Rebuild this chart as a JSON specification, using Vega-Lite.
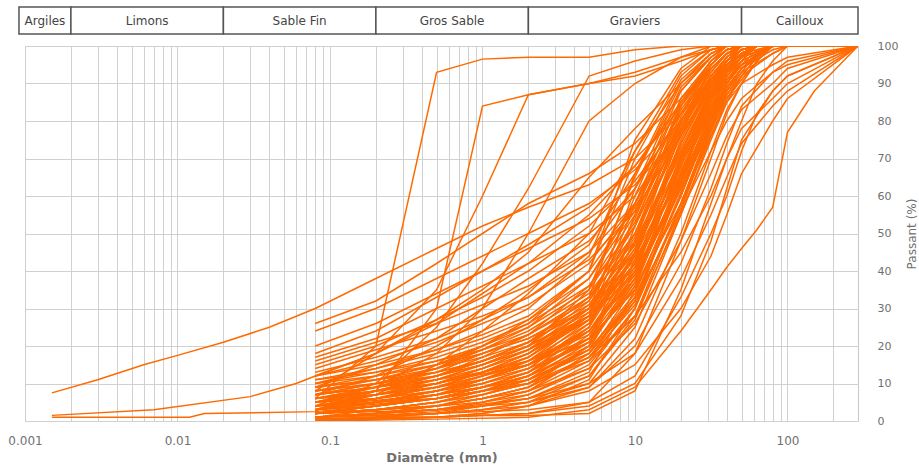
{
"$schema":"https://vega.github.io/schema/vega-lite/v6.json",
"width":833,"height":375,
"autosize":{"type":"none"},
"padding":{"left":25,"top":46,"right":61,"bottom":53},
"background":"white",
"config":{"view":{"stroke":"#c8c8c8"},"font":"DejaVu Sans"},
"datasets":{
"classes":[
{"classe":"Argiles","dmin":0.000913,"dmax":0.002},
{"classe":"Limons","dmin":0.002,"dmax":0.02},
{"classe":"Sable Fin","dmin":0.02,"dmax":0.2},
{"classe":"Gros Sable","dmin":0.2,"dmax":2},
{"classe":"Graviers","dmin":2,"dmax":50},
{"classe":"Cailloux","dmin":50,"dmax":290}
],
"courbes":[
{"c":1,"d":0.08,"p":3},{"c":1,"d":0.2,"p":5},{"c":1,"d":0.5,"p":8},{"c":1,"d":1,"p":11},{"c":1,"d":2,"p":15},{"c":1,"d":5,"p":24},{"c":1,"d":10,"p":40},{"c":1,"d":20,"p":68},{"c":1,"d":31.5,"p":85},{"c":1,"d":40,"p":93},{"c":1,"d":50,"p":97},{"c":1,"d":80,"p":100},{"c":1,"d":290,"p":100},
{"c":2,"d":0.08,"p":1},{"c":2,"d":0.2,"p":2},{"c":2,"d":0.5,"p":4},{"c":2,"d":1,"p":6},{"c":2,"d":2,"p":9},{"c":2,"d":5,"p":17},{"c":2,"d":10,"p":33},{"c":2,"d":20,"p":60},{"c":2,"d":31.5,"p":80},{"c":2,"d":40,"p":90},{"c":2,"d":50,"p":96},{"c":2,"d":63,"p":100},{"c":2,"d":290,"p":100},
{"c":3,"d":0.08,"p":5},{"c":3,"d":0.2,"p":8},{"c":3,"d":0.5,"p":12},{"c":3,"d":1,"p":16},{"c":3,"d":2,"p":21},{"c":3,"d":5,"p":30},{"c":3,"d":10,"p":45},{"c":3,"d":20,"p":70},{"c":3,"d":31.5,"p":86},{"c":3,"d":40,"p":94},{"c":3,"d":50,"p":98},{"c":3,"d":80,"p":100},{"c":3,"d":290,"p":100},
{"c":4,"d":0.08,"p":2},{"c":4,"d":0.2,"p":4},{"c":4,"d":0.5,"p":7},{"c":4,"d":1,"p":10},{"c":4,"d":2,"p":14},{"c":4,"d":5,"p":25},{"c":4,"d":10,"p":44},{"c":4,"d":20,"p":75},{"c":4,"d":31.5,"p":90},{"c":4,"d":40,"p":96},{"c":4,"d":50,"p":99},{"c":4,"d":63,"p":100},{"c":4,"d":290,"p":100},
{"c":5,"d":0.08,"p":8},{"c":5,"d":0.2,"p":11},{"c":5,"d":0.5,"p":15},{"c":5,"d":1,"p":19},{"c":5,"d":2,"p":24},{"c":5,"d":5,"p":34},{"c":5,"d":10,"p":50},{"c":5,"d":20,"p":76},{"c":5,"d":31.5,"p":90},{"c":5,"d":40,"p":96},{"c":5,"d":50,"p":100},{"c":5,"d":290,"p":100},
{"c":6,"d":0.08,"p":0.5},{"c":6,"d":0.2,"p":1},{"c":6,"d":0.5,"p":2},{"c":6,"d":1,"p":3},{"c":6,"d":2,"p":5},{"c":6,"d":5,"p":12},{"c":6,"d":10,"p":28},{"c":6,"d":20,"p":58},{"c":6,"d":31.5,"p":78},{"c":6,"d":40,"p":88},{"c":6,"d":50,"p":94},{"c":6,"d":80,"p":99},{"c":6,"d":100,"p":100},{"c":6,"d":290,"p":100},
{"c":7,"d":0.08,"p":4},{"c":7,"d":0.2,"p":6},{"c":7,"d":0.5,"p":9},{"c":7,"d":1,"p":13},{"c":7,"d":2,"p":18},{"c":7,"d":5,"p":28},{"c":7,"d":10,"p":42},{"c":7,"d":20,"p":65},{"c":7,"d":31.5,"p":80},{"c":7,"d":40,"p":88},{"c":7,"d":50,"p":93},{"c":7,"d":80,"p":98},{"c":7,"d":100,"p":100},{"c":7,"d":290,"p":100},
{"c":8,"d":0.08,"p":6},{"c":8,"d":0.2,"p":9},{"c":8,"d":0.5,"p":13},{"c":8,"d":1,"p":18},{"c":8,"d":2,"p":23},{"c":8,"d":5,"p":33},{"c":8,"d":10,"p":48},{"c":8,"d":20,"p":72},{"c":8,"d":31.5,"p":87},{"c":8,"d":40,"p":93},{"c":8,"d":50,"p":97},{"c":8,"d":63,"p":100},{"c":8,"d":290,"p":100},
{"c":9,"d":0.08,"p":2},{"c":9,"d":0.2,"p":3},{"c":9,"d":0.5,"p":5},{"c":9,"d":1,"p":8},{"c":9,"d":2,"p":12},{"c":9,"d":5,"p":22},{"c":9,"d":10,"p":38},{"c":9,"d":20,"p":62},{"c":9,"d":31.5,"p":79},{"c":9,"d":40,"p":87},{"c":9,"d":50,"p":92},{"c":9,"d":63,"p":97},{"c":9,"d":80,"p":100},{"c":9,"d":290,"p":100},
{"c":10,"d":0.08,"p":10},{"c":10,"d":0.2,"p":13},{"c":10,"d":0.5,"p":17},{"c":10,"d":1,"p":21},{"c":10,"d":2,"p":26},{"c":10,"d":5,"p":36},{"c":10,"d":10,"p":52},{"c":10,"d":20,"p":78},{"c":10,"d":31.5,"p":92},{"c":10,"d":40,"p":97},{"c":10,"d":50,"p":100},{"c":10,"d":290,"p":100},
{"c":11,"d":0.08,"p":3},{"c":11,"d":0.2,"p":5},{"c":11,"d":0.5,"p":8},{"c":11,"d":1,"p":12},{"c":11,"d":2,"p":17},{"c":11,"d":5,"p":29},{"c":11,"d":10,"p":50},{"c":11,"d":20,"p":80},{"c":11,"d":31.5,"p":94},{"c":11,"d":40,"p":98},{"c":11,"d":50,"p":100},{"c":11,"d":290,"p":100},
{"c":12,"d":0.08,"p":1},{"c":12,"d":0.2,"p":2},{"c":12,"d":0.5,"p":3},{"c":12,"d":1,"p":5},{"c":12,"d":2,"p":8},{"c":12,"d":5,"p":18},{"c":12,"d":10,"p":36},{"c":12,"d":20,"p":65},{"c":12,"d":31.5,"p":84},{"c":12,"d":40,"p":92},{"c":12,"d":50,"p":97},{"c":12,"d":63,"p":100},{"c":12,"d":290,"p":100},
{"c":13,"d":0.08,"p":7},{"c":13,"d":0.2,"p":10},{"c":13,"d":0.5,"p":14},{"c":13,"d":1,"p":18},{"c":13,"d":2,"p":22},{"c":13,"d":5,"p":30},{"c":13,"d":10,"p":43},{"c":13,"d":20,"p":66},{"c":13,"d":31.5,"p":83},{"c":13,"d":40,"p":91},{"c":13,"d":50,"p":95},{"c":13,"d":80,"p":100},{"c":13,"d":290,"p":100},
{"c":14,"d":0.08,"p":4},{"c":14,"d":0.2,"p":7},{"c":14,"d":0.5,"p":11},{"c":14,"d":1,"p":15},{"c":14,"d":2,"p":20},{"c":14,"d":5,"p":32},{"c":14,"d":10,"p":54},{"c":14,"d":20,"p":82},{"c":14,"d":31.5,"p":95},{"c":14,"d":40,"p":99},{"c":14,"d":50,"p":100},{"c":14,"d":290,"p":100},
{"c":15,"d":0.08,"p":0},{"c":15,"d":0.2,"p":1},{"c":15,"d":0.5,"p":2},{"c":15,"d":1,"p":3},{"c":15,"d":2,"p":5},{"c":15,"d":5,"p":10},{"c":15,"d":10,"p":25},{"c":15,"d":20,"p":55},{"c":15,"d":31.5,"p":76},{"c":15,"d":40,"p":86},{"c":15,"d":50,"p":92},{"c":15,"d":63,"p":97},{"c":15,"d":80,"p":100},{"c":15,"d":290,"p":100},
{"c":16,"d":0.08,"p":9},{"c":16,"d":0.2,"p":12},{"c":16,"d":0.5,"p":16},{"c":16,"d":1,"p":20},{"c":16,"d":2,"p":25},{"c":16,"d":5,"p":35},{"c":16,"d":10,"p":53},{"c":16,"d":20,"p":80},{"c":16,"d":31.5,"p":93},{"c":16,"d":40,"p":98},{"c":16,"d":50,"p":100},{"c":16,"d":290,"p":100},
{"c":17,"d":0.08,"p":5},{"c":17,"d":0.2,"p":8},{"c":17,"d":0.5,"p":12},{"c":17,"d":1,"p":17},{"c":17,"d":2,"p":23},{"c":17,"d":5,"p":36},{"c":17,"d":10,"p":55},{"c":17,"d":20,"p":79},{"c":17,"d":31.5,"p":91},{"c":17,"d":40,"p":96},{"c":17,"d":50,"p":99},{"c":17,"d":63,"p":100},{"c":17,"d":290,"p":100},
{"c":18,"d":0.08,"p":2},{"c":18,"d":0.2,"p":4},{"c":18,"d":0.5,"p":6},{"c":18,"d":1,"p":9},{"c":18,"d":2,"p":13},{"c":18,"d":5,"p":24},{"c":18,"d":10,"p":42},{"c":18,"d":20,"p":70},{"c":18,"d":31.5,"p":87},{"c":18,"d":40,"p":94},{"c":18,"d":50,"p":98},{"c":18,"d":63,"p":100},{"c":18,"d":290,"p":100},
{"c":19,"d":0.08,"p":6},{"c":19,"d":0.2,"p":8},{"c":19,"d":0.5,"p":11},{"c":19,"d":1,"p":14},{"c":19,"d":2,"p":18},{"c":19,"d":5,"p":27},{"c":19,"d":10,"p":40},{"c":19,"d":20,"p":62},{"c":19,"d":31.5,"p":78},{"c":19,"d":40,"p":86},{"c":19,"d":50,"p":91},{"c":19,"d":63,"p":96},{"c":19,"d":80,"p":100},{"c":19,"d":290,"p":100},
{"c":20,"d":0.08,"p":3},{"c":20,"d":0.2,"p":6},{"c":20,"d":0.5,"p":10},{"c":20,"d":1,"p":14},{"c":20,"d":2,"p":19},{"c":20,"d":5,"p":31},{"c":20,"d":10,"p":47},{"c":20,"d":20,"p":71},{"c":20,"d":31.5,"p":85},{"c":20,"d":40,"p":92},{"c":20,"d":50,"p":96},{"c":20,"d":80,"p":100},{"c":20,"d":290,"p":100},
{"c":21,"d":0.08,"p":11},{"c":21,"d":0.2,"p":14},{"c":21,"d":0.5,"p":18},{"c":21,"d":1,"p":22},{"c":21,"d":2,"p":27},{"c":21,"d":5,"p":38},{"c":21,"d":10,"p":56},{"c":21,"d":20,"p":84},{"c":21,"d":31.5,"p":96},{"c":21,"d":40,"p":100},{"c":21,"d":290,"p":100},
{"c":22,"d":0.08,"p":1},{"c":22,"d":0.2,"p":3},{"c":22,"d":0.5,"p":5},{"c":22,"d":1,"p":8},{"c":22,"d":2,"p":12},{"c":22,"d":5,"p":23},{"c":22,"d":10,"p":41},{"c":22,"d":20,"p":67},{"c":22,"d":31.5,"p":83},{"c":22,"d":40,"p":91},{"c":22,"d":50,"p":95},{"c":22,"d":80,"p":100},{"c":22,"d":290,"p":100},
{"c":23,"d":0.08,"p":4},{"c":23,"d":0.2,"p":6},{"c":23,"d":0.5,"p":9},{"c":23,"d":1,"p":12},{"c":23,"d":2,"p":16},{"c":23,"d":5,"p":26},{"c":23,"d":10,"p":45},{"c":23,"d":20,"p":74},{"c":23,"d":31.5,"p":89},{"c":23,"d":40,"p":95},{"c":23,"d":50,"p":98},{"c":23,"d":63,"p":100},{"c":23,"d":290,"p":100},
{"c":24,"d":0.08,"p":7},{"c":24,"d":0.2,"p":10},{"c":24,"d":0.5,"p":14},{"c":24,"d":1,"p":19},{"c":24,"d":2,"p":25},{"c":24,"d":5,"p":38},{"c":24,"d":10,"p":58},{"c":24,"d":20,"p":83},{"c":24,"d":31.5,"p":94},{"c":24,"d":40,"p":98},{"c":24,"d":50,"p":100},{"c":24,"d":290,"p":100},
{"c":25,"d":0.08,"p":2},{"c":25,"d":0.2,"p":3},{"c":25,"d":0.5,"p":5},{"c":25,"d":1,"p":7},{"c":25,"d":2,"p":10},{"c":25,"d":5,"p":20},{"c":25,"d":10,"p":38},{"c":25,"d":20,"p":68},{"c":25,"d":31.5,"p":86},{"c":25,"d":40,"p":93},{"c":25,"d":50,"p":97},{"c":25,"d":63,"p":100},{"c":25,"d":290,"p":100},
{"c":26,"d":0.08,"p":12},{"c":26,"d":0.2,"p":16},{"c":26,"d":0.5,"p":21},{"c":26,"d":1,"p":26},{"c":26,"d":2,"p":31},{"c":26,"d":5,"p":42},{"c":26,"d":10,"p":58},{"c":26,"d":20,"p":80},{"c":26,"d":31.5,"p":92},{"c":26,"d":40,"p":97},{"c":26,"d":50,"p":100},{"c":26,"d":290,"p":100},
{"c":27,"d":0.08,"p":0},{"c":27,"d":0.2,"p":1},{"c":27,"d":0.5,"p":1},{"c":27,"d":1,"p":2},{"c":27,"d":2,"p":4},{"c":27,"d":5,"p":9},{"c":27,"d":10,"p":22},{"c":27,"d":20,"p":50},{"c":27,"d":31.5,"p":72},{"c":27,"d":40,"p":83},{"c":27,"d":50,"p":90},{"c":27,"d":63,"p":96},{"c":27,"d":80,"p":100},{"c":27,"d":290,"p":100},
{"c":28,"d":0.08,"p":5},{"c":28,"d":0.2,"p":7},{"c":28,"d":0.5,"p":10},{"c":28,"d":1,"p":13},{"c":28,"d":2,"p":17},{"c":28,"d":5,"p":27},{"c":28,"d":10,"p":44},{"c":28,"d":20,"p":73},{"c":28,"d":31.5,"p":88},{"c":28,"d":40,"p":94},{"c":28,"d":50,"p":98},{"c":28,"d":63,"p":100},{"c":28,"d":290,"p":100},
{"c":29,"d":0.08,"p":3},{"c":29,"d":0.2,"p":5},{"c":29,"d":0.5,"p":7},{"c":29,"d":1,"p":10},{"c":29,"d":2,"p":14},{"c":29,"d":5,"p":26},{"c":29,"d":10,"p":48},{"c":29,"d":20,"p":78},{"c":29,"d":31.5,"p":92},{"c":29,"d":40,"p":97},{"c":29,"d":50,"p":100},{"c":29,"d":290,"p":100},
{"c":30,"d":0.08,"p":8},{"c":30,"d":0.2,"p":10},{"c":30,"d":0.5,"p":13},{"c":30,"d":1,"p":16},{"c":30,"d":2,"p":20},{"c":30,"d":5,"p":29},{"c":30,"d":10,"p":44},{"c":30,"d":20,"p":68},{"c":30,"d":31.5,"p":84},{"c":30,"d":40,"p":91},{"c":30,"d":50,"p":95},{"c":30,"d":80,"p":100},{"c":30,"d":290,"p":100},
{"c":31,"d":0.08,"p":1},{"c":31,"d":0.2,"p":2},{"c":31,"d":0.5,"p":4},{"c":31,"d":1,"p":7},{"c":31,"d":2,"p":11},{"c":31,"d":5,"p":21},{"c":31,"d":10,"p":37},{"c":31,"d":20,"p":63},{"c":31,"d":31.5,"p":81},{"c":31,"d":40,"p":89},{"c":31,"d":50,"p":94},{"c":31,"d":63,"p":98},{"c":31,"d":80,"p":100},{"c":31,"d":290,"p":100},
{"c":32,"d":0.08,"p":6},{"c":32,"d":0.2,"p":9},{"c":32,"d":0.5,"p":14},{"c":32,"d":1,"p":20},{"c":32,"d":2,"p":27},{"c":32,"d":5,"p":40},{"c":32,"d":10,"p":57},{"c":32,"d":20,"p":79},{"c":32,"d":31.5,"p":91},{"c":32,"d":40,"p":96},{"c":32,"d":50,"p":99},{"c":32,"d":63,"p":100},{"c":32,"d":290,"p":100},
{"c":33,"d":0.08,"p":2},{"c":33,"d":0.2,"p":4},{"c":33,"d":0.5,"p":7},{"c":33,"d":1,"p":11},{"c":33,"d":2,"p":16},{"c":33,"d":5,"p":28},{"c":33,"d":10,"p":46},{"c":33,"d":20,"p":72},{"c":33,"d":31.5,"p":87},{"c":33,"d":40,"p":94},{"c":33,"d":50,"p":97},{"c":33,"d":63,"p":100},{"c":33,"d":290,"p":100},
{"c":34,"d":0.08,"p":4},{"c":34,"d":0.2,"p":5},{"c":34,"d":0.5,"p":7},{"c":34,"d":1,"p":9},{"c":34,"d":2,"p":12},{"c":34,"d":5,"p":19},{"c":34,"d":10,"p":33},{"c":34,"d":20,"p":60},{"c":34,"d":31.5,"p":80},{"c":34,"d":40,"p":89},{"c":34,"d":50,"p":94},{"c":34,"d":80,"p":100},{"c":34,"d":290,"p":100},
{"c":35,"d":0.08,"p":9},{"c":35,"d":0.2,"p":11},{"c":35,"d":0.5,"p":14},{"c":35,"d":1,"p":17},{"c":35,"d":2,"p":21},{"c":35,"d":5,"p":30},{"c":35,"d":10,"p":46},{"c":35,"d":20,"p":72},{"c":35,"d":31.5,"p":88},{"c":35,"d":40,"p":95},{"c":35,"d":50,"p":99},{"c":35,"d":63,"p":100},{"c":35,"d":290,"p":100},
{"c":36,"d":0.08,"p":0.5},{"c":36,"d":0.2,"p":1},{"c":36,"d":0.5,"p":2},{"c":36,"d":1,"p":4},{"c":36,"d":2,"p":7},{"c":36,"d":5,"p":15},{"c":36,"d":10,"p":30},{"c":36,"d":20,"p":58},{"c":36,"d":31.5,"p":79},{"c":36,"d":40,"p":89},{"c":36,"d":50,"p":94},{"c":36,"d":80,"p":100},{"c":36,"d":290,"p":100},
{"c":37,"d":0.08,"p":3},{"c":37,"d":0.2,"p":5},{"c":37,"d":0.5,"p":8},{"c":37,"d":1,"p":11},{"c":37,"d":2,"p":15},{"c":37,"d":5,"p":24},{"c":37,"d":10,"p":39},{"c":37,"d":20,"p":64},{"c":37,"d":31.5,"p":82},{"c":37,"d":40,"p":90},{"c":37,"d":50,"p":95},{"c":37,"d":63,"p":99},{"c":37,"d":80,"p":100},{"c":37,"d":290,"p":100},
{"c":38,"d":0.08,"p":13},{"c":38,"d":0.2,"p":17},{"c":38,"d":0.5,"p":22},{"c":38,"d":1,"p":27},{"c":38,"d":2,"p":33},{"c":38,"d":5,"p":45},{"c":38,"d":10,"p":62},{"c":38,"d":20,"p":85},{"c":38,"d":31.5,"p":95},{"c":38,"d":40,"p":99},{"c":38,"d":50,"p":100},{"c":38,"d":290,"p":100},
{"c":39,"d":0.08,"p":7},{"c":39,"d":0.2,"p":9},{"c":39,"d":0.5,"p":12},{"c":39,"d":1,"p":15},{"c":39,"d":2,"p":19},{"c":39,"d":5,"p":28},{"c":39,"d":10,"p":42},{"c":39,"d":20,"p":69},{"c":39,"d":31.5,"p":86},{"c":39,"d":40,"p":93},{"c":39,"d":50,"p":97},{"c":39,"d":63,"p":100},{"c":39,"d":290,"p":100},
{"c":40,"d":0.08,"p":1},{"c":40,"d":0.2,"p":2},{"c":40,"d":0.5,"p":3},{"c":40,"d":1,"p":5},{"c":40,"d":2,"p":8},{"c":40,"d":5,"p":16},{"c":40,"d":10,"p":32},{"c":40,"d":20,"p":61},{"c":40,"d":31.5,"p":81},{"c":40,"d":40,"p":90},{"c":40,"d":50,"p":95},{"c":40,"d":80,"p":100},{"c":40,"d":290,"p":100},
{"c":41,"d":0.08,"p":5},{"c":41,"d":0.2,"p":8},{"c":41,"d":0.5,"p":12},{"c":41,"d":1,"p":16},{"c":41,"d":2,"p":21},{"c":41,"d":5,"p":33},{"c":41,"d":10,"p":52},{"c":41,"d":20,"p":78},{"c":41,"d":31.5,"p":91},{"c":41,"d":40,"p":96},{"c":41,"d":50,"p":99},{"c":41,"d":63,"p":100},{"c":41,"d":290,"p":100},
{"c":42,"d":0.08,"p":2},{"c":42,"d":0.2,"p":3},{"c":42,"d":0.5,"p":4},{"c":42,"d":1,"p":6},{"c":42,"d":2,"p":9},{"c":42,"d":5,"p":17},{"c":42,"d":10,"p":31},{"c":42,"d":20,"p":57},{"c":42,"d":31.5,"p":77},{"c":42,"d":40,"p":87},{"c":42,"d":50,"p":93},{"c":42,"d":63,"p":98},{"c":42,"d":80,"p":100},{"c":42,"d":290,"p":100},
{"c":43,"d":0.08,"p":10},{"c":43,"d":0.2,"p":12},{"c":43,"d":0.5,"p":15},{"c":43,"d":1,"p":18},{"c":43,"d":2,"p":22},{"c":43,"d":5,"p":31},{"c":43,"d":10,"p":47},{"c":43,"d":20,"p":74},{"c":43,"d":31.5,"p":89},{"c":43,"d":40,"p":95},{"c":43,"d":50,"p":98},{"c":43,"d":63,"p":100},{"c":43,"d":290,"p":100},
{"c":44,"d":0.08,"p":4},{"c":44,"d":0.2,"p":7},{"c":44,"d":0.5,"p":10},{"c":44,"d":1,"p":14},{"c":44,"d":2,"p":19},{"c":44,"d":5,"p":30},{"c":44,"d":10,"p":49},{"c":44,"d":20,"p":76},{"c":44,"d":31.5,"p":90},{"c":44,"d":40,"p":96},{"c":44,"d":50,"p":99},{"c":44,"d":63,"p":100},{"c":44,"d":290,"p":100},
{"c":45,"d":0.08,"p":6},{"c":45,"d":0.2,"p":8},{"c":45,"d":0.5,"p":10},{"c":45,"d":1,"p":13},{"c":45,"d":2,"p":16},{"c":45,"d":5,"p":24},{"c":45,"d":10,"p":38},{"c":45,"d":20,"p":64},{"c":45,"d":31.5,"p":82},{"c":45,"d":40,"p":90},{"c":45,"d":50,"p":95},{"c":45,"d":80,"p":100},{"c":45,"d":290,"p":100},
{"c":46,"d":0.08,"p":17},{"c":46,"d":0.2,"p":22},{"c":46,"d":0.5,"p":30},{"c":46,"d":1,"p":36},{"c":46,"d":2,"p":42},{"c":46,"d":5,"p":50},{"c":46,"d":10,"p":60},{"c":46,"d":20,"p":78},{"c":46,"d":31.5,"p":90},{"c":46,"d":40,"p":96},{"c":46,"d":50,"p":100},{"c":46,"d":290,"p":100},
{"c":47,"d":0.08,"p":18},{"c":47,"d":0.2,"p":24},{"c":47,"d":0.5,"p":33},{"c":47,"d":1,"p":40},{"c":47,"d":2,"p":47},{"c":47,"d":5,"p":57},{"c":47,"d":10,"p":68},{"c":47,"d":20,"p":84},{"c":47,"d":31.5,"p":94},{"c":47,"d":40,"p":98},{"c":47,"d":50,"p":100},{"c":47,"d":290,"p":100},
{"c":48,"d":0.08,"p":24},{"c":48,"d":0.2,"p":30},{"c":48,"d":0.5,"p":38},{"c":48,"d":1,"p":44},{"c":48,"d":2,"p":50},{"c":48,"d":5,"p":58},{"c":48,"d":10,"p":67},{"c":48,"d":20,"p":80},{"c":48,"d":31.5,"p":90},{"c":48,"d":40,"p":95},{"c":48,"d":63,"p":100},{"c":48,"d":290,"p":100},
{"c":49,"d":0.08,"p":26},{"c":49,"d":0.2,"p":32},{"c":49,"d":0.5,"p":42},{"c":49,"d":1,"p":50},{"c":49,"d":2,"p":58},{"c":49,"d":5,"p":66},{"c":49,"d":10,"p":74},{"c":49,"d":20,"p":86},{"c":49,"d":31.5,"p":94},{"c":49,"d":40,"p":98},{"c":49,"d":50,"p":100},{"c":49,"d":290,"p":100},
{"c":50,"d":0.0015,"p":7.5},{"c":50,"d":0.003,"p":11},{"c":50,"d":0.006,"p":15},{"c":50,"d":0.01,"p":17.5},{"c":50,"d":0.02,"p":21},{"c":50,"d":0.04,"p":25},{"c":50,"d":0.08,"p":30},{"c":50,"d":0.2,"p":38},{"c":50,"d":0.5,"p":46},{"c":50,"d":1,"p":52},{"c":50,"d":2,"p":57},{"c":50,"d":5,"p":63},{"c":50,"d":10,"p":70},{"c":50,"d":20,"p":82},{"c":50,"d":31.5,"p":90},{"c":50,"d":50,"p":97},{"c":50,"d":80,"p":100},{"c":50,"d":290,"p":100},
{"c":51,"d":0.0015,"p":1.5},{"c":51,"d":0.007,"p":3},{"c":51,"d":0.03,"p":6.5},{"c":51,"d":0.06,"p":10},{"c":51,"d":0.08,"p":12},{"c":51,"d":0.2,"p":18},{"c":51,"d":0.5,"p":26},{"c":51,"d":1,"p":34},{"c":51,"d":2,"p":42},{"c":51,"d":5,"p":55},{"c":51,"d":10,"p":68},{"c":51,"d":20,"p":85},{"c":51,"d":31.5,"p":94},{"c":51,"d":40,"p":98},{"c":51,"d":50,"p":100},{"c":51,"d":290,"p":100},
{"c":52,"d":0.0015,"p":1},{"c":52,"d":0.012,"p":1},{"c":52,"d":0.015,"p":2},{"c":52,"d":0.08,"p":2.5},{"c":52,"d":0.2,"p":4},{"c":52,"d":0.5,"p":6},{"c":52,"d":1,"p":8},{"c":52,"d":2,"p":10},{"c":52,"d":5,"p":16},{"c":52,"d":10,"p":28},{"c":52,"d":20,"p":55},{"c":52,"d":31.5,"p":75},{"c":52,"d":40,"p":85},{"c":52,"d":50,"p":92},{"c":52,"d":80,"p":98},{"c":52,"d":100,"p":100},{"c":52,"d":290,"p":100},
{"c":53,"d":0.08,"p":6},{"c":53,"d":0.2,"p":20},{"c":53,"d":0.5,"p":93},{"c":53,"d":1,"p":96.5},{"c":53,"d":2,"p":97},{"c":53,"d":5,"p":97},{"c":53,"d":10,"p":99},{"c":53,"d":20,"p":100},{"c":53,"d":290,"p":100},
{"c":54,"d":0.08,"p":3},{"c":54,"d":0.2,"p":8},{"c":54,"d":0.5,"p":30},{"c":54,"d":1,"p":84},{"c":54,"d":2,"p":87},{"c":54,"d":5,"p":90},{"c":54,"d":10,"p":92},{"c":54,"d":20,"p":96},{"c":54,"d":31.5,"p":99},{"c":54,"d":40,"p":100},{"c":54,"d":290,"p":100},
{"c":55,"d":0.08,"p":8},{"c":55,"d":0.2,"p":18},{"c":55,"d":0.5,"p":35},{"c":55,"d":1,"p":60},{"c":55,"d":2,"p":87},{"c":55,"d":5,"p":90},{"c":55,"d":10,"p":93},{"c":55,"d":20,"p":97},{"c":55,"d":40,"p":100},{"c":55,"d":290,"p":100},
{"c":56,"d":0.08,"p":4},{"c":56,"d":0.2,"p":10},{"c":56,"d":0.5,"p":25},{"c":56,"d":1,"p":42},{"c":56,"d":2,"p":62},{"c":56,"d":5,"p":92},{"c":56,"d":10,"p":96},{"c":56,"d":20,"p":99},{"c":56,"d":31.5,"p":100},{"c":56,"d":290,"p":100},
{"c":57,"d":0.08,"p":5},{"c":57,"d":0.2,"p":9},{"c":57,"d":0.5,"p":18},{"c":57,"d":1,"p":30},{"c":57,"d":2,"p":50},{"c":57,"d":5,"p":80},{"c":57,"d":10,"p":90},{"c":57,"d":20,"p":97},{"c":57,"d":31.5,"p":100},{"c":57,"d":290,"p":100},
{"c":58,"d":0.08,"p":12},{"c":58,"d":0.2,"p":18},{"c":58,"d":0.5,"p":27},{"c":58,"d":1,"p":35},{"c":58,"d":2,"p":45},{"c":58,"d":5,"p":65},{"c":58,"d":10,"p":78},{"c":58,"d":20,"p":90},{"c":58,"d":31.5,"p":97},{"c":58,"d":40,"p":100},{"c":58,"d":290,"p":100},
{"c":59,"d":0.08,"p":15},{"c":59,"d":0.2,"p":20},{"c":59,"d":0.5,"p":27},{"c":59,"d":1,"p":33},{"c":59,"d":2,"p":40},{"c":59,"d":5,"p":52},{"c":59,"d":10,"p":64},{"c":59,"d":20,"p":80},{"c":59,"d":31.5,"p":91},{"c":59,"d":40,"p":96},{"c":59,"d":50,"p":99},{"c":59,"d":63,"p":100},{"c":59,"d":290,"p":100},
{"c":60,"d":0.08,"p":20},{"c":60,"d":0.2,"p":26},{"c":60,"d":0.5,"p":34},{"c":60,"d":1,"p":40},{"c":60,"d":2,"p":46},{"c":60,"d":5,"p":54},{"c":60,"d":10,"p":63},{"c":60,"d":20,"p":77},{"c":60,"d":31.5,"p":88},{"c":60,"d":40,"p":94},{"c":60,"d":50,"p":98},{"c":60,"d":63,"p":100},{"c":60,"d":290,"p":100},
{"c":61,"d":0.08,"p":14},{"c":61,"d":0.2,"p":19},{"c":61,"d":0.5,"p":24},{"c":61,"d":1,"p":28},{"c":61,"d":2,"p":33},{"c":61,"d":5,"p":43},{"c":61,"d":10,"p":56},{"c":61,"d":20,"p":76},{"c":61,"d":31.5,"p":89},{"c":61,"d":40,"p":95},{"c":61,"d":50,"p":99},{"c":61,"d":63,"p":100},{"c":61,"d":290,"p":100},
{"c":62,"d":0.08,"p":0},{"c":62,"d":0.5,"p":0.5},{"c":62,"d":2,"p":1},{"c":62,"d":5,"p":3},{"c":62,"d":10,"p":9},{"c":62,"d":20,"p":24},{"c":62,"d":31.5,"p":35},{"c":62,"d":40,"p":41},{"c":62,"d":50,"p":46},{"c":62,"d":63,"p":51},{"c":62,"d":80,"p":57},{"c":62,"d":100,"p":77},{"c":62,"d":150,"p":88},{"c":62,"d":290,"p":100},
{"c":63,"d":0.08,"p":0.5},{"c":63,"d":0.5,"p":1},{"c":63,"d":2,"p":2},{"c":63,"d":5,"p":5},{"c":63,"d":10,"p":12},{"c":63,"d":20,"p":33},{"c":63,"d":31.5,"p":50},{"c":63,"d":40,"p":60},{"c":63,"d":50,"p":72},{"c":63,"d":63,"p":82},{"c":63,"d":80,"p":88},{"c":63,"d":100,"p":92},{"c":63,"d":290,"p":100},
{"c":64,"d":0.08,"p":1},{"c":64,"d":0.5,"p":3},{"c":64,"d":2,"p":6},{"c":64,"d":5,"p":10},{"c":64,"d":10,"p":18},{"c":64,"d":20,"p":38},{"c":64,"d":31.5,"p":55},{"c":64,"d":40,"p":65},{"c":64,"d":50,"p":74},{"c":64,"d":80,"p":84},{"c":64,"d":100,"p":88},{"c":64,"d":290,"p":100},
{"c":65,"d":0.08,"p":2},{"c":65,"d":0.5,"p":4},{"c":65,"d":2,"p":8},{"c":65,"d":5,"p":14},{"c":65,"d":10,"p":26},{"c":65,"d":20,"p":48},{"c":65,"d":31.5,"p":66},{"c":65,"d":40,"p":76},{"c":65,"d":50,"p":83},{"c":65,"d":80,"p":90},{"c":65,"d":100,"p":94},{"c":65,"d":290,"p":100},
{"c":66,"d":0.08,"p":4},{"c":66,"d":0.5,"p":7},{"c":66,"d":2,"p":11},{"c":66,"d":5,"p":18},{"c":66,"d":10,"p":32},{"c":66,"d":20,"p":56},{"c":66,"d":31.5,"p":72},{"c":66,"d":40,"p":80},{"c":66,"d":50,"p":86},{"c":66,"d":80,"p":93},{"c":66,"d":100,"p":96},{"c":66,"d":290,"p":100},
{"c":67,"d":0.08,"p":1},{"c":67,"d":0.5,"p":2},{"c":67,"d":2,"p":4},{"c":67,"d":5,"p":8},{"c":67,"d":10,"p":15},{"c":67,"d":20,"p":30},{"c":67,"d":31.5,"p":44},{"c":67,"d":40,"p":55},{"c":67,"d":50,"p":66},{"c":67,"d":80,"p":80},{"c":67,"d":100,"p":86},{"c":67,"d":290,"p":100},
{"c":68,"d":0.08,"p":3},{"c":68,"d":0.5,"p":6},{"c":68,"d":2,"p":10},{"c":68,"d":5,"p":17},{"c":68,"d":10,"p":28},{"c":68,"d":20,"p":45},{"c":68,"d":31.5,"p":60},{"c":68,"d":40,"p":70},{"c":68,"d":50,"p":78},{"c":68,"d":80,"p":86},{"c":68,"d":100,"p":90},{"c":68,"d":290,"p":100},
{"c":69,"d":0.08,"p":6},{"c":69,"d":0.5,"p":10},{"c":69,"d":2,"p":15},{"c":69,"d":5,"p":22},{"c":69,"d":10,"p":35},{"c":69,"d":20,"p":58},{"c":69,"d":31.5,"p":76},{"c":69,"d":40,"p":85},{"c":69,"d":50,"p":90},{"c":69,"d":80,"p":95},{"c":69,"d":100,"p":97},{"c":69,"d":290,"p":100},
{"c":70,"d":0.08,"p":0},{"c":70,"d":0.5,"p":1},{"c":70,"d":2,"p":2},{"c":70,"d":5,"p":4},{"c":70,"d":10,"p":10},{"c":70,"d":20,"p":28},{"c":70,"d":31.5,"p":48},{"c":70,"d":40,"p":62},{"c":70,"d":50,"p":75},{"c":70,"d":80,"p":88},{"c":70,"d":100,"p":92},{"c":70,"d":290,"p":100},
{"c":71,"d":0.08,"p":2},{"c":71,"d":0.5,"p":3},{"c":71,"d":2,"p":5},{"c":71,"d":5,"p":9},{"c":71,"d":10,"p":20},{"c":71,"d":20,"p":42},{"c":71,"d":31.5,"p":62},{"c":71,"d":40,"p":74},{"c":71,"d":50,"p":84},{"c":71,"d":80,"p":93},{"c":71,"d":100,"p":95},{"c":71,"d":290,"p":100},
{"c":72,"d":0.08,"p":0.5},{"c":72,"d":0.2,"p":1},{"c":72,"d":0.5,"p":1},{"c":72,"d":1,"p":1.5},{"c":72,"d":2,"p":1.5},{"c":72,"d":5,"p":2},{"c":72,"d":10,"p":8},{"c":72,"d":20,"p":35},{"c":72,"d":31.5,"p":58},{"c":72,"d":40,"p":70},{"c":72,"d":50,"p":80},{"c":72,"d":63,"p":90},{"c":72,"d":80,"p":96},{"c":72,"d":100,"p":100},{"c":72,"d":290,"p":100},
{"c":73,"d":0.08,"p":1},{"c":73,"d":0.2,"p":1.5},{"c":73,"d":0.5,"p":2},{"c":73,"d":1,"p":2.5},{"c":73,"d":2,"p":3},{"c":73,"d":5,"p":5},{"c":73,"d":10,"p":18},{"c":73,"d":20,"p":48},{"c":73,"d":31.5,"p":70},{"c":73,"d":40,"p":82},{"c":73,"d":50,"p":90},{"c":73,"d":63,"p":96},{"c":73,"d":80,"p":100},{"c":73,"d":290,"p":100},
{"c":74,"d":0.08,"p":2},{"c":74,"d":0.2,"p":3},{"c":74,"d":0.5,"p":5},{"c":74,"d":1,"p":7},{"c":74,"d":2,"p":10},{"c":74,"d":5,"p":19},{"c":74,"d":10,"p":40},{"c":74,"d":20,"p":74},{"c":74,"d":31.5,"p":90},{"c":74,"d":40,"p":96},{"c":74,"d":50,"p":99},{"c":74,"d":63,"p":100},{"c":74,"d":290,"p":100},
{"c":75,"d":0.08,"p":5},{"c":75,"d":0.2,"p":7},{"c":75,"d":0.5,"p":9},{"c":75,"d":1,"p":12},{"c":75,"d":2,"p":15},{"c":75,"d":5,"p":22},{"c":75,"d":10,"p":35},{"c":75,"d":20,"p":62},{"c":75,"d":31.5,"p":81},{"c":75,"d":40,"p":90},{"c":75,"d":50,"p":95},{"c":75,"d":80,"p":100},{"c":75,"d":290,"p":100},
{"c":76,"d":0.08,"p":3},{"c":76,"d":0.2,"p":4},{"c":76,"d":0.5,"p":6},{"c":76,"d":1,"p":9},{"c":76,"d":2,"p":13},{"c":76,"d":5,"p":22},{"c":76,"d":10,"p":45},{"c":76,"d":20,"p":80},{"c":76,"d":31.5,"p":94},{"c":76,"d":40,"p":98},{"c":76,"d":50,"p":100},{"c":76,"d":290,"p":100},
{"c":77,"d":0.08,"p":1},{"c":77,"d":0.2,"p":2},{"c":77,"d":0.5,"p":3},{"c":77,"d":1,"p":4},{"c":77,"d":2,"p":6},{"c":77,"d":5,"p":13},{"c":77,"d":10,"p":35},{"c":77,"d":20,"p":70},{"c":77,"d":31.5,"p":88},{"c":77,"d":40,"p":95},{"c":77,"d":50,"p":98},{"c":77,"d":63,"p":100},{"c":77,"d":290,"p":100},
{"c":78,"d":0.08,"p":8},{"c":78,"d":0.2,"p":10},{"c":78,"d":0.5,"p":12},{"c":78,"d":1,"p":15},{"c":78,"d":2,"p":19},{"c":78,"d":5,"p":27},{"c":78,"d":10,"p":42},{"c":78,"d":20,"p":70},{"c":78,"d":31.5,"p":87},{"c":78,"d":40,"p":94},{"c":78,"d":50,"p":98},{"c":78,"d":63,"p":100},{"c":78,"d":290,"p":100},
{"c":79,"d":0.08,"p":4},{"c":79,"d":0.2,"p":6},{"c":79,"d":0.5,"p":8},{"c":79,"d":1,"p":11},{"c":79,"d":2,"p":15},{"c":79,"d":5,"p":25},{"c":79,"d":10,"p":48},{"c":79,"d":20,"p":81},{"c":79,"d":31.5,"p":95},{"c":79,"d":40,"p":99},{"c":79,"d":50,"p":100},{"c":79,"d":290,"p":100},
{"c":80,"d":0.08,"p":6},{"c":80,"d":0.2,"p":7},{"c":80,"d":0.5,"p":9},{"c":80,"d":1,"p":11},{"c":80,"d":2,"p":14},{"c":80,"d":5,"p":21},{"c":80,"d":10,"p":36},{"c":80,"d":20,"p":66},{"c":80,"d":31.5,"p":85},{"c":80,"d":40,"p":93},{"c":80,"d":50,"p":97},{"c":80,"d":63,"p":100},{"c":80,"d":290,"p":100},
{"c":81,"d":0.08,"p":2},{"c":81,"d":0.2,"p":3},{"c":81,"d":0.5,"p":4},{"c":81,"d":1,"p":5},{"c":81,"d":2,"p":7},{"c":81,"d":5,"p":14},{"c":81,"d":10,"p":30},{"c":81,"d":20,"p":64},{"c":81,"d":31.5,"p":85},{"c":81,"d":40,"p":93},{"c":81,"d":50,"p":97},{"c":81,"d":63,"p":100},{"c":81,"d":290,"p":100},
{"c":82,"d":0.08,"p":9},{"c":82,"d":0.2,"p":11},{"c":82,"d":0.5,"p":13},{"c":82,"d":1,"p":16},{"c":82,"d":2,"p":20},{"c":82,"d":5,"p":28},{"c":82,"d":10,"p":41},{"c":82,"d":20,"p":66},{"c":82,"d":31.5,"p":83},{"c":82,"d":40,"p":91},{"c":82,"d":50,"p":96},{"c":82,"d":80,"p":100},{"c":82,"d":290,"p":100},
{"c":83,"d":0.08,"p":3},{"c":83,"d":0.2,"p":5},{"c":83,"d":0.5,"p":7},{"c":83,"d":1,"p":9},{"c":83,"d":2,"p":12},{"c":83,"d":5,"p":20},{"c":83,"d":10,"p":37},{"c":83,"d":20,"p":69},{"c":83,"d":31.5,"p":87},{"c":83,"d":40,"p":95},{"c":83,"d":50,"p":98},{"c":83,"d":63,"p":100},{"c":83,"d":290,"p":100},
{"c":84,"d":0.08,"p":0},{"c":84,"d":0.2,"p":0.5},{"c":84,"d":0.5,"p":1},{"c":84,"d":1,"p":2},{"c":84,"d":2,"p":4},{"c":84,"d":5,"p":11},{"c":84,"d":10,"p":30},{"c":84,"d":20,"p":66},{"c":84,"d":31.5,"p":86},{"c":84,"d":40,"p":94},{"c":84,"d":50,"p":98},{"c":84,"d":63,"p":100},{"c":84,"d":290,"p":100},
{"c":85,"d":0.08,"p":5},{"c":85,"d":0.2,"p":6},{"c":85,"d":0.5,"p":8},{"c":85,"d":1,"p":10},{"c":85,"d":2,"p":13},{"c":85,"d":5,"p":21},{"c":85,"d":10,"p":43},{"c":85,"d":20,"p":77},{"c":85,"d":31.5,"p":92},{"c":85,"d":40,"p":97},{"c":85,"d":50,"p":100},{"c":85,"d":290,"p":100},
{"c":86,"d":0.08,"p":7},{"c":86,"d":0.2,"p":9},{"c":86,"d":0.5,"p":11},{"c":86,"d":1,"p":13},{"c":86,"d":2,"p":16},{"c":86,"d":5,"p":23},{"c":86,"d":10,"p":39},{"c":86,"d":20,"p":71},{"c":86,"d":31.5,"p":89},{"c":86,"d":40,"p":96},{"c":86,"d":50,"p":99},{"c":86,"d":63,"p":100},{"c":86,"d":290,"p":100},
{"c":87,"d":0.08,"p":1},{"c":87,"d":0.2,"p":1.5},{"c":87,"d":0.5,"p":2.5},{"c":87,"d":1,"p":4},{"c":87,"d":2,"p":6},{"c":87,"d":5,"p":12},{"c":87,"d":10,"p":27},{"c":87,"d":20,"p":56},{"c":87,"d":31.5,"p":78},{"c":87,"d":40,"p":88},{"c":87,"d":50,"p":94},{"c":87,"d":80,"p":100},{"c":87,"d":290,"p":100},
{"c":88,"d":0.08,"p":4},{"c":88,"d":0.2,"p":5},{"c":88,"d":0.5,"p":6},{"c":88,"d":1,"p":8},{"c":88,"d":2,"p":11},{"c":88,"d":5,"p":19},{"c":88,"d":10,"p":34},{"c":88,"d":20,"p":63},{"c":88,"d":31.5,"p":83},{"c":88,"d":40,"p":92},{"c":88,"d":50,"p":96},{"c":88,"d":63,"p":100},{"c":88,"d":290,"p":100},
{"c":89,"d":0.08,"p":11},{"c":89,"d":0.2,"p":13},{"c":89,"d":0.5,"p":16},{"c":89,"d":1,"p":19},{"c":89,"d":2,"p":23},{"c":89,"d":5,"p":32},{"c":89,"d":10,"p":50},{"c":89,"d":20,"p":77},{"c":89,"d":31.5,"p":91},{"c":89,"d":40,"p":97},{"c":89,"d":50,"p":100},{"c":89,"d":290,"p":100},
{"c":90,"d":0.08,"p":2},{"c":90,"d":0.2,"p":4},{"c":90,"d":0.5,"p":6},{"c":90,"d":1,"p":8},{"c":90,"d":2,"p":11},{"c":90,"d":5,"p":18},{"c":90,"d":10,"p":33},{"c":90,"d":20,"p":60},{"c":90,"d":31.5,"p":82},{"c":90,"d":40,"p":92},{"c":90,"d":50,"p":97},{"c":90,"d":63,"p":100},{"c":90,"d":290,"p":100},
{"c":91,"d":0.08,"p":4},{"c":91,"d":0.2,"p":6},{"c":91,"d":0.5,"p":9},{"c":91,"d":1,"p":13},{"c":91,"d":2,"p":18},{"c":91,"d":5,"p":30},{"c":91,"d":10,"p":60},{"c":91,"d":20,"p":88},{"c":91,"d":31.5,"p":97},{"c":91,"d":40,"p":100},{"c":91,"d":290,"p":100},
{"c":92,"d":0.08,"p":6},{"c":92,"d":0.2,"p":8},{"c":92,"d":0.5,"p":11},{"c":92,"d":1,"p":15},{"c":92,"d":2,"p":20},{"c":92,"d":5,"p":35},{"c":92,"d":10,"p":65},{"c":92,"d":20,"p":90},{"c":92,"d":31.5,"p":98},{"c":92,"d":40,"p":100},{"c":92,"d":290,"p":100},
{"c":93,"d":0.08,"p":2},{"c":93,"d":0.2,"p":4},{"c":93,"d":0.5,"p":6},{"c":93,"d":1,"p":9},{"c":93,"d":2,"p":13},{"c":93,"d":5,"p":25},{"c":93,"d":10,"p":55},{"c":93,"d":20,"p":85},{"c":93,"d":31.5,"p":96},{"c":93,"d":40,"p":99},{"c":93,"d":50,"p":100},{"c":93,"d":290,"p":100},
{"c":94,"d":0.08,"p":8},{"c":94,"d":0.2,"p":11},{"c":94,"d":0.5,"p":15},{"c":94,"d":1,"p":20},{"c":94,"d":2,"p":26},{"c":94,"d":5,"p":40},{"c":94,"d":10,"p":70},{"c":94,"d":20,"p":92},{"c":94,"d":31.5,"p":99},{"c":94,"d":40,"p":100},{"c":94,"d":290,"p":100},
{"c":95,"d":0.08,"p":3},{"c":95,"d":0.2,"p":5},{"c":95,"d":0.5,"p":8},{"c":95,"d":1,"p":11},{"c":95,"d":2,"p":15},{"c":95,"d":5,"p":27},{"c":95,"d":10,"p":58},{"c":95,"d":20,"p":86},{"c":95,"d":31.5,"p":96},{"c":95,"d":40,"p":99},{"c":95,"d":50,"p":100},{"c":95,"d":290,"p":100},
{"c":96,"d":0.08,"p":10},{"c":96,"d":0.2,"p":14},{"c":96,"d":0.5,"p":19},{"c":96,"d":1,"p":24},{"c":96,"d":2,"p":30},{"c":96,"d":5,"p":44},{"c":96,"d":10,"p":72},{"c":96,"d":20,"p":93},{"c":96,"d":31.5,"p":99},{"c":96,"d":40,"p":100},{"c":96,"d":290,"p":100},
{"c":97,"d":0.08,"p":5},{"c":97,"d":0.2,"p":7},{"c":97,"d":0.5,"p":10},{"c":97,"d":1,"p":13},{"c":97,"d":2,"p":17},{"c":97,"d":5,"p":28},{"c":97,"d":10,"p":62},{"c":97,"d":20,"p":89},{"c":97,"d":31.5,"p":97},{"c":97,"d":40,"p":100},{"c":97,"d":290,"p":100},
{"c":98,"d":0.08,"p":1},{"c":98,"d":0.2,"p":2},{"c":98,"d":0.5,"p":4},{"c":98,"d":1,"p":6},{"c":98,"d":2,"p":9},{"c":98,"d":5,"p":20},{"c":98,"d":10,"p":52},{"c":98,"d":20,"p":84},{"c":98,"d":31.5,"p":95},{"c":98,"d":40,"p":99},{"c":98,"d":50,"p":100},{"c":98,"d":290,"p":100},
{"c":99,"d":0.08,"p":7},{"c":99,"d":0.2,"p":9},{"c":99,"d":0.5,"p":12},{"c":99,"d":1,"p":16},{"c":99,"d":2,"p":21},{"c":99,"d":5,"p":33},{"c":99,"d":10,"p":66},{"c":99,"d":20,"p":91},{"c":99,"d":31.5,"p":98},{"c":99,"d":40,"p":100},{"c":99,"d":290,"p":100},
{"c":100,"d":0.08,"p":12},{"c":100,"d":0.2,"p":15},{"c":100,"d":0.5,"p":19},{"c":100,"d":1,"p":23},{"c":100,"d":2,"p":28},{"c":100,"d":5,"p":40},{"c":100,"d":10,"p":75},{"c":100,"d":20,"p":94},{"c":100,"d":31.5,"p":100},{"c":100,"d":290,"p":100},
{"c":101,"d":0.08,"p":9},{"c":101,"d":0.2,"p":15},{"c":101,"d":0.5,"p":22},{"c":101,"d":1,"p":30},{"c":101,"d":2,"p":38},{"c":101,"d":5,"p":48},{"c":101,"d":10,"p":62},{"c":101,"d":20,"p":82},{"c":101,"d":31.5,"p":93},{"c":101,"d":40,"p":98},{"c":101,"d":50,"p":100},{"c":101,"d":290,"p":100},
{"c":102,"d":0.08,"p":16},{"c":102,"d":0.2,"p":21},{"c":102,"d":0.5,"p":26},{"c":102,"d":1,"p":31},{"c":102,"d":2,"p":36},{"c":102,"d":5,"p":45},{"c":102,"d":10,"p":58},{"c":102,"d":20,"p":80},{"c":102,"d":31.5,"p":92},{"c":102,"d":40,"p":97},{"c":102,"d":50,"p":100},{"c":102,"d":290,"p":100},
{"c":103,"d":0.08,"p":7},{"c":103,"d":0.2,"p":12},{"c":103,"d":0.5,"p":20},{"c":103,"d":1,"p":27},{"c":103,"d":2,"p":35},{"c":103,"d":5,"p":47},{"c":103,"d":10,"p":66},{"c":103,"d":20,"p":88},{"c":103,"d":31.5,"p":97},{"c":103,"d":40,"p":100},{"c":103,"d":290,"p":100},
{"c":104,"d":0.08,"p":3},{"c":104,"d":0.2,"p":7},{"c":104,"d":0.5,"p":15},{"c":104,"d":1,"p":24},{"c":104,"d":2,"p":34},{"c":104,"d":5,"p":50},{"c":104,"d":10,"p":72},{"c":104,"d":20,"p":90},{"c":104,"d":31.5,"p":98},{"c":104,"d":40,"p":100},{"c":104,"d":290,"p":100}
]
},
"layer":[
{
"data":{"name":"courbes"},
"mark":{"type":"line","color":"#ff6a00","strokeWidth":1.5,"clip":true},
"encoding":{
"x":{"field":"d","type":"quantitative","scale":{"type":"log","domain":[0.001,290],"nice":false},
"axis":{"title":"Diamètre (mm)","values":[0.001,0.002,0.003,0.004,0.005,0.006,0.007,0.008,0.009,0.01,0.02,0.03,0.04,0.05,0.06,0.07,0.08,0.09,0.1,0.2,0.3,0.4,0.5,0.6,0.7,0.8,0.9,1,2,3,4,5,6,7,8,9,10,20,30,40,50,60,70,80,90,100,200],
"format":"~g","labelExpr":"indexof([0.001,0.01,0.1,1,10,100], datum.value) >= 0 ? datum.label : ''",
"grid":true,"gridColor":"#d0d0d0","gridWidth":1,"ticks":false,"tickSize":0,"domain":false,
"labelPadding":14,"labelFontSize":12,"labelColor":"#707070","labelFlush":false,"labelOverlap":false,
"titleFontSize":13,"titleFontWeight":"bold","titleColor":"#707070","titlePadding":5}},
"y":{"field":"p","type":"quantitative","scale":{"domain":[0,100],"nice":false},
"axis":{"orient":"right","title":"Passant (%)","values":[0,10,20,30,40,50,60,70,80,90,100],"tickCount":11,
"grid":true,"gridColor":"#d0d0d0","ticks":false,"tickSize":0,"domain":false,
"labelPadding":19,"labelFontSize":11,"labelColor":"#707070","labelFlush":false,"labelOverlap":false,
"titleAngle":270,"titleFontSize":12,"titleFontWeight":"normal","titleColor":"#707070","titlePadding":21}},
"detail":{"field":"c","type":"nominal"}
}
},
{
"data":{"name":"classes"},
"mark":{"type":"rect","fill":"white","stroke":"#555555","strokeWidth":1.5,"clip":false},
"encoding":{
"x":{"field":"dmin","type":"quantitative","scale":{"type":"log","domain":[0.001,290],"nice":false},
"axis":{"title":"Diamètre (mm)","values":[0.001,0.002,0.003,0.004,0.005,0.006,0.007,0.008,0.009,0.01,0.02,0.03,0.04,0.05,0.06,0.07,0.08,0.09,0.1,0.2,0.3,0.4,0.5,0.6,0.7,0.8,0.9,1,2,3,4,5,6,7,8,9,10,20,30,40,50,60,70,80,90,100,200],
"format":"~g","labelExpr":"indexof([0.001,0.01,0.1,1,10,100], datum.value) >= 0 ? datum.label : ''",
"grid":true,"gridColor":"#d0d0d0","gridWidth":1,"ticks":false,"tickSize":0,"domain":false,
"labelPadding":14,"labelFontSize":12,"labelColor":"#707070","labelFlush":false,"labelOverlap":false,
"titleFontSize":13,"titleFontWeight":"bold","titleColor":"#707070","titlePadding":5}},
"x2":{"field":"dmax"},
"y":{"datum":103.2,"type":"quantitative","scale":{"domain":[0,100],"nice":false},
"axis":{"orient":"right","title":"Passant (%)","values":[0,10,20,30,40,50,60,70,80,90,100],"tickCount":11,
"grid":true,"gridColor":"#d0d0d0","ticks":false,"tickSize":0,"domain":false,
"labelPadding":19,"labelFontSize":11,"labelColor":"#707070","labelFlush":false,"labelOverlap":false,
"titleAngle":270,"titleFontSize":12,"titleFontWeight":"normal","titleColor":"#707070","titlePadding":21}},
"y2":{"datum":110.4}
}
},
{
"data":{"name":"classes"},
"transform":[{"calculate":"sqrt(datum.dmin*datum.dmax)","as":"centre"}],
"mark":{"type":"text","fontSize":12,"color":"#444444","clip":false,"font":"DejaVu Sans"},
"encoding":{
"x":{"field":"centre","type":"quantitative","scale":{"type":"log","domain":[0.001,290],"nice":false},
"axis":{"title":"Diamètre (mm)","values":[0.001,0.002,0.003,0.004,0.005,0.006,0.007,0.008,0.009,0.01,0.02,0.03,0.04,0.05,0.06,0.07,0.08,0.09,0.1,0.2,0.3,0.4,0.5,0.6,0.7,0.8,0.9,1,2,3,4,5,6,7,8,9,10,20,30,40,50,60,70,80,90,100,200],
"format":"~g","labelExpr":"indexof([0.001,0.01,0.1,1,10,100], datum.value) >= 0 ? datum.label : ''",
"grid":true,"gridColor":"#d0d0d0","gridWidth":1,"ticks":false,"tickSize":0,"domain":false,
"labelPadding":14,"labelFontSize":12,"labelColor":"#707070","labelFlush":false,"labelOverlap":false,
"titleFontSize":13,"titleFontWeight":"bold","titleColor":"#707070","titlePadding":5}},
"y":{"datum":106.8,"type":"quantitative","scale":{"domain":[0,100],"nice":false},
"axis":{"orient":"right","title":"Passant (%)","values":[0,10,20,30,40,50,60,70,80,90,100],"tickCount":11,
"grid":true,"gridColor":"#d0d0d0","ticks":false,"tickSize":0,"domain":false,
"labelPadding":19,"labelFontSize":11,"labelColor":"#707070","labelFlush":false,"labelOverlap":false,
"titleAngle":270,"titleFontSize":12,"titleFontWeight":"normal","titleColor":"#707070","titlePadding":21}},
"text":{"field":"classe"}
}
}
]
}
